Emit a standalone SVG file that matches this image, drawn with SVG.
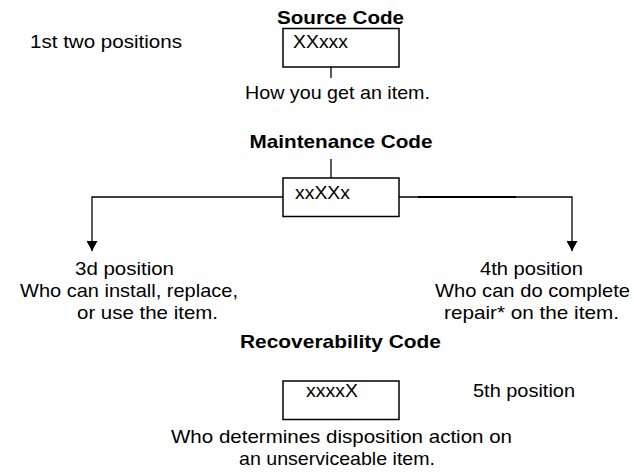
<svg xmlns="http://www.w3.org/2000/svg" width="634" height="476" viewBox="0 0 634 476">
<defs>
<style>
text{font-family:"Liberation Sans",Arial,Helvetica,sans-serif;font-size:19px;fill:#000}
.t{font-weight:bold}
.box{fill:#fff;stroke:#000;stroke-width:1.5}
.c{stroke:#000;stroke-width:1.3;fill:none}
</style>
<marker id="ah" viewBox="0 0 10 11" refX="10" refY="5.5" markerWidth="10" markerHeight="11" markerUnits="userSpaceOnUse" orient="auto">
<path d="M0,0 L10,5.5 L0,11 z" fill="#000"/>
</marker>
</defs>
<rect x="0" y="0" width="634" height="476" fill="#fff"/>
<g id="connectors">
<line class="c" x1="331" y1="58" x2="331" y2="78"/>
<line class="c" x1="331" y1="159" x2="331" y2="178"/>
<polyline class="c" points="283,197 92,197 92,251" marker-end="url(#ah)"/>
<polyline class="c" points="399,197 572,197 572,251" marker-end="url(#ah)"/>
<line x1="418" y1="197" x2="516" y2="197" stroke="#000" stroke-width="2"/>
</g>
<g id="source">
<text class="t" x="277" y="24" textLength="127" lengthAdjust="spacingAndGlyphs">Source Code</text>
<text x="30" y="48" textLength="152" lengthAdjust="spacingAndGlyphs">1st two positions</text>
<rect class="box" x="283" y="28.5" width="116" height="38.5"/>
<text x="293" y="48" textLength="55" lengthAdjust="spacingAndGlyphs">XXxxx</text>
<text x="245" y="99" textLength="185" lengthAdjust="spacingAndGlyphs">How you get an item.</text>
</g>
<g id="maintenance">
<text class="t" x="249.5" y="148" textLength="183" lengthAdjust="spacingAndGlyphs">Maintenance Code</text>
<rect class="box" x="283" y="178" width="116" height="38.5"/>
<text x="295" y="199" textLength="55" lengthAdjust="spacingAndGlyphs">xxXXx</text>
</g>
<g id="third">
<text x="75" y="275" textLength="99" lengthAdjust="spacingAndGlyphs">3d position</text>
<text x="20" y="297" textLength="218" lengthAdjust="spacingAndGlyphs">Who can install, replace,</text>
<text x="77" y="319" textLength="141" lengthAdjust="spacingAndGlyphs">or use the item.</text>
</g>
<g id="fourth">
<text x="480" y="275" textLength="103" lengthAdjust="spacingAndGlyphs">4th position</text>
<text x="435" y="297" textLength="195" lengthAdjust="spacingAndGlyphs">Who can do complete</text>
<text x="444" y="319" textLength="175" lengthAdjust="spacingAndGlyphs">repair* on the item.</text>
</g>
<g id="recoverability">
<text class="t" x="240" y="348" textLength="201" lengthAdjust="spacingAndGlyphs">Recoverability Code</text>
<rect class="box" x="283" y="381" width="116" height="38.5"/>
<text x="306" y="397" textLength="52" lengthAdjust="spacingAndGlyphs">xxxxX</text>
<text x="473" y="397" textLength="102" lengthAdjust="spacingAndGlyphs">5th position</text>
<text x="171" y="443" textLength="341" lengthAdjust="spacingAndGlyphs">Who determines disposition action on</text>
<text x="239" y="465" textLength="196" lengthAdjust="spacingAndGlyphs">an unserviceable item.</text>
</g>
</svg>
